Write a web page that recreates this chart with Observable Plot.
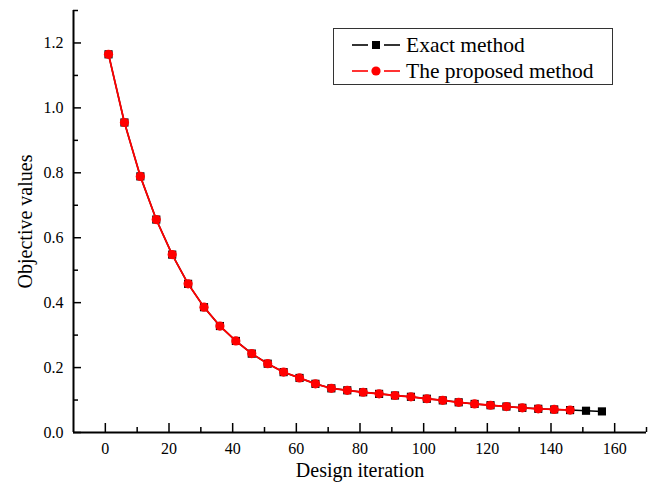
<!DOCTYPE html>
<html>
<head>
<meta charset="utf-8">
<script src="https://cdn.jsdelivr.net/npm/d3@7"></script>
<script src="https://cdn.jsdelivr.net/npm/@observablehq/plot@0.6"></script>
<style>
  html, body { margin: 0; padding: 0; background: #fff; }
  #wrap { position: relative; width: 649px; height: 490px; font-family: "Liberation Serif", "Times New Roman", serif; }
  #legend { position: absolute; left: 333px; top: 28px; width: 280px; height: 57px; border: 1px solid #333; background: #fff; box-sizing: border-box; }
  #legend .row { position: absolute; left: 0; height: 26px; display: flex; align-items: center; font-size: 21.5px; color: #000; white-space: nowrap; }
  #legend svg { margin-left: 18px; margin-right: 6px; }
</style>
</head>
<body>
<div id="wrap"></div>
<script>
// Data
const iterExact = [1, 6, 11, 16, 21, 26, 31, 36, 41, 46, 51, 56, 61, 66, 71, 76, 81, 86, 91, 96, 101, 106, 111, 116, 121, 126, 131, 136, 141, 146, 151, 156];
const valuesExact = [1.165, 0.955, 0.789, 0.656, 0.548, 0.458, 0.386, 0.328, 0.282, 0.243, 0.212, 0.186, 0.168, 0.150, 0.136, 0.130, 0.124, 0.119, 0.114, 0.110, 0.104, 0.099, 0.093, 0.088, 0.084, 0.080, 0.076, 0.073, 0.071, 0.069, 0.067, 0.065];
const iterProposed = [1, 6, 11, 16, 21, 26, 31, 36, 41, 46, 51, 56, 61, 66, 71, 76, 81, 86, 91, 96, 101, 106, 111, 116, 121, 126, 131, 136, 141, 146];
const valuesProposed = [1.165, 0.955, 0.789, 0.656, 0.548, 0.458, 0.386, 0.328, 0.282, 0.243, 0.212, 0.186, 0.168, 0.150, 0.136, 0.130, 0.124, 0.119, 0.114, 0.110, 0.104, 0.099, 0.093, 0.088, 0.084, 0.080, 0.076, 0.073, 0.071, 0.069];
const xTicks = [0, 20, 40, 60, 80, 100, 120, 140, 160];
const xMinorTicks = [10, 30, 50, 70, 90, 110, 130, 150, 170];
const yTicks = [0.0, 0.2, 0.4, 0.6, 0.8, 1.0, 1.2];
const yMinorTicks = [0.1, 0.3, 0.5, 0.7, 0.9, 1.1, 1.3];
const seriesNames = ["Exact method", "The proposed method"];
const xTitle = "Design iteration";
const yTitle = "Objective values";

const exact = iterExact.map((x, i) => ({x, y: valuesExact[i]}));
const proposed = iterProposed.map((x, i) => ({x, y: valuesProposed[i]}));

const W = 649, H = 490;
const mT = 10, mR = 3, mB = 58, mL = 73;
const pw = W - mL - mR, ph = H - mT - mB;
const serif = "Liberation Serif";
const fmtY = d3.format(".1f");

const chart = Plot.plot({
  width: W, height: H,
  marginTop: mT, marginRight: mR, marginBottom: mB, marginLeft: mL,
  x: {domain: [-10, 170], axis: null},
  y: {domain: [0, 1.3], axis: null},
  style: {fontFamily: serif, fontSize: "16px", color: "#000", background: "#fff", overflow: "visible"},
  marks: [
    // tick labels
    Plot.text(xTicks, {x: d => d, text: d => String(d), frameAnchor: "bottom", dy: 16, lineAnchor: "middle", textAnchor: "middle", fontSize: 16, fontFamily: serif, fill: "#000"}),
    Plot.text(yTicks, {y: d => d, text: d => fmtY(d), frameAnchor: "left", dx: -10, lineAnchor: "middle", textAnchor: "end", fontSize: 16, fontFamily: serif, fill: "#000"}),
    // inward ticks
    Plot.ruleX(xTicks, {x: d => d, insetTop: ph - 9, stroke: "#000", strokeWidth: 1.5}),
    Plot.ruleX(xMinorTicks, {x: d => d, insetTop: ph - 5, stroke: "#000", strokeWidth: 1.5}),
    Plot.ruleY(yTicks, {y: d => d, insetRight: pw - 8, stroke: "#000", strokeWidth: 1.5}),
    Plot.ruleY(yMinorTicks, {y: d => d, insetRight: pw - 5, stroke: "#000", strokeWidth: 1.5}),
    // axis lines
    Plot.ruleX([-10], {stroke: "#000", strokeWidth: 2}),
    Plot.ruleY([0], {stroke: "#000", strokeWidth: 2}),
    // titles
    Plot.text([xTitle], {frameAnchor: "bottom", dy: 38, textAnchor: "middle", lineAnchor: "middle", fontSize: 20, fontFamily: serif, fill: "#000"}),
    Plot.text([yTitle], {frameAnchor: "left", dx: -48, rotate: -90, textAnchor: "middle", lineAnchor: "middle", fontSize: 20, fontFamily: serif, fill: "#000"}),
    // series
    Plot.line(exact, {x: "x", y: "y", stroke: "#000", strokeWidth: 1.5}),
    Plot.dot(exact, {x: "x", y: "y", symbol: "square", r: 4.6, fill: "#000", stroke: "none"}),
    Plot.line(proposed, {x: "x", y: "y", stroke: "#ff0000", strokeWidth: 1.8}),
    Plot.dot(proposed, {x: "x", y: "y", symbol: "circle", r: 4.6, fill: "#ff0000", stroke: "none"})
  ]
});

const wrap = document.getElementById("wrap");
wrap.appendChild(chart);

// Legend
const legend = document.createElement("div");
legend.id = "legend";
const legendStyles = [
  {color: "#000", shape: "square"},
  {color: "#ff0000", shape: "circle"}
];
seriesNames.forEach((name, i) => {
  const row = document.createElement("div");
  row.className = "row";
  row.style.top = (i === 0 ? 3 : 29) + "px";
  const s = legendStyles[i];
  const marker = s.shape === "square"
    ? `<rect x="20" y="5" width="8" height="8" fill="${s.color}"/>`
    : `<circle cx="24" cy="9" r="4.6" fill="${s.color}"/>`;
  row.innerHTML = `<svg width="48" height="18" viewBox="0 0 48 18"><line x1="0" x2="16" y1="9" y2="9" stroke="${s.color}" stroke-width="1.6"/><line x1="32" x2="48" y1="9" y2="9" stroke="${s.color}" stroke-width="1.6"/>${marker}</svg><span>${name}</span>`;
  legend.appendChild(row);
});
wrap.appendChild(legend);
</script>
</body>
</html>
